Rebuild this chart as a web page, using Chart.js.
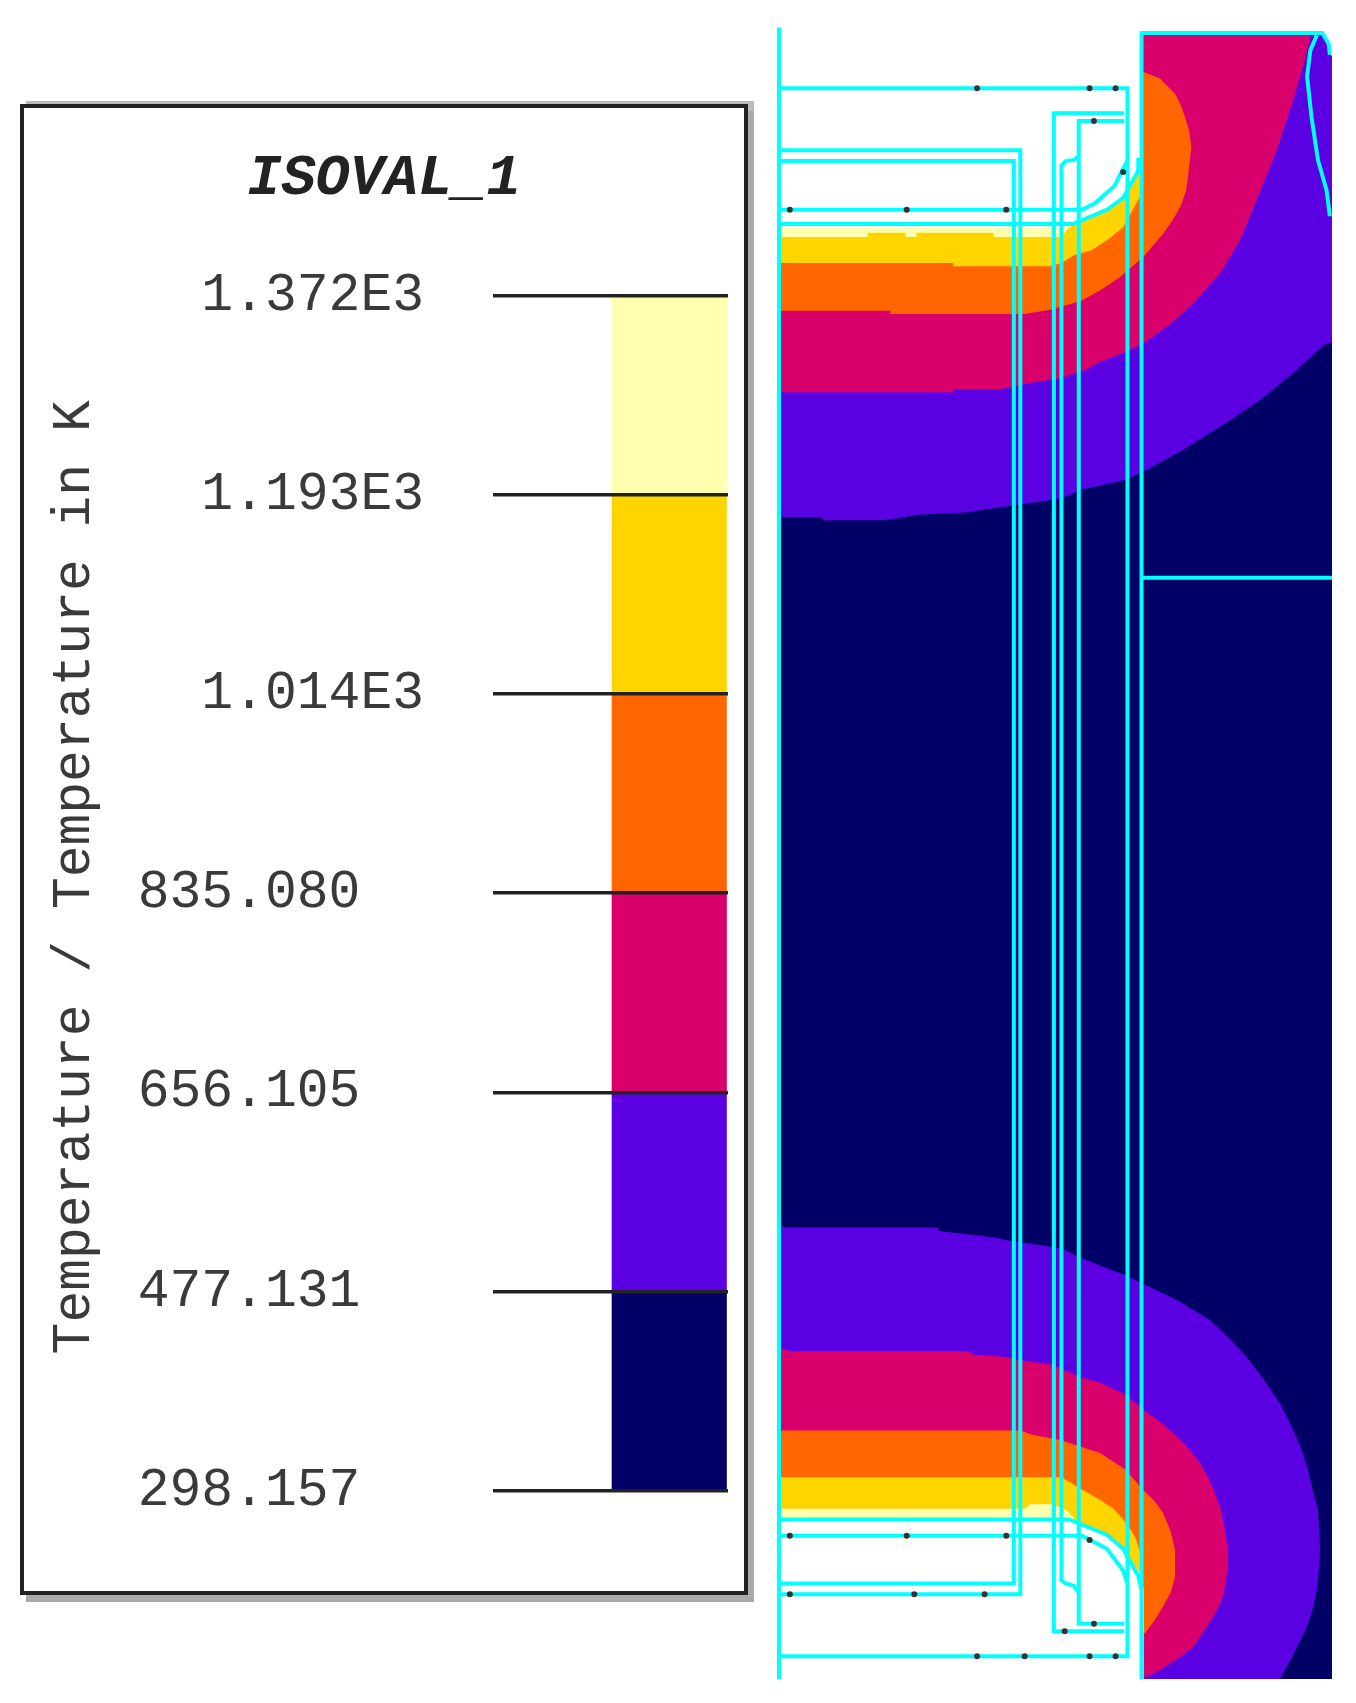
<!DOCTYPE html>
<html>
<head>
<meta charset="utf-8">
<script src="https://cdn.jsdelivr.net/npm/chart.js@4"></script>
<style>
  html, body { margin: 0; padding: 0; background: #fff; }
  body { position: relative; width: 1356px; height: 1703px; overflow: hidden; }
  #panel { position: absolute; left: 20px; top: 104px; width: 728px; height: 1491px; box-sizing: border-box; border: 4px solid #222; box-shadow: 6px 7px 0 #aaa, 6px -3px 0 #bbb; }
  #legend { position: absolute; left: 20px; top: 104px; filter: blur(0.6px); }
  #field { position: absolute; left: 770px; top: 10px; filter: blur(0.6px); }
</style>
</head>
<body>
<div id="panel"></div>
<canvas id="legend" width="728" height="1491"></canvas>
<canvas id="field" width="586" height="1693"></canvas>
<script>
// temperature levels (K), low to high
const levels = [298.157, 477.131, 656.105, 835.080, 1014, 1193, 1372];
const levelLabels = ['298.157', '477.131', '656.105', '835.080', '1.014E3', '1.193E3', '1.372E3'];
const bandColors = ['#000066', '#5b00e2', '#d9006b', '#ff6600', '#ffd500', '#ffffb0'];
const bandCategories = ['', 'band'];

// isotherm regions (map units, y down)
const fieldNavy = [[0,0],[502,0],[510,21],[511,21],[511,1517],[0,1517]];
const violetTop = [[0,0],[0,446],[39,446],[41,449],[96,449],[130,444],[172,442],[213,436],[261,429],[279,421],[320,412],[341,402],[372,385],[417,357],[445,338],[478,311],[503,288],[511,285],[511,21],[510,21],[502,0]];
const crimsonTop = [[0,0],[0,331],[161,331],[161,328],[206,328],[234,322],[261,318],[285,310],[297,303],[320,294],[337,286],[361,269],[383,249],[408,221],[426,191],[445,145],[460,108],[475,62],[485,28],[492,0]];
const orangeTop = [[0,0],[0,256],[103,256],[103,259],[227,259],[251,255],[279,247],[297,237],[315,225],[337,206],[355,185],[364,172],[371,160],[376,146],[378,132],[381,105],[379,90],[375,77],[371,66],[366,56],[352,42],[337,36]];
const goldTop = [[0,0],[0,212],[161,212],[161,215],[251,215],[261,212],[272,205],[289,200],[303,191],[318,179],[334,150],[334,127],[334,0]];
const paleTop = [[0,0],[0,188],[82,188],[82,184],[117,184],[117,188],[127,188],[127,184],[198,184],[198,188],[261,188],[268,179],[268,0]];
const whiteTop = [[0,0],[335,0],[335,127],[332,129],[318,150],[303,163],[279,173],[268,179],[0,179]];

const violetBottom = [[0,1098],[6,1101],[146,1101],[148,1104],[199,1110],[213,1113],[261,1120],[279,1129],[320,1145],[341,1155],[368,1168],[398,1186],[415,1202],[432,1220],[448,1241],[463,1263],[473,1283],[482,1303],[489,1325],[494,1346],[498,1361],[500,1397],[499,1416],[497,1434],[494,1450],[489,1466],[482,1481],[473,1499],[463,1517],[0,1517]];
const crimsonBottom = [[0,1212],[11,1215],[175,1215],[179,1218],[208,1220],[227,1224],[251,1227],[279,1239],[297,1244],[320,1255],[337,1269],[351,1279],[365,1291],[378,1304],[389,1318],[397,1332],[403,1346],[408,1360],[411,1374],[415,1398],[415,1413],[411,1438],[407,1449],[401,1460],[392,1474],[383,1487],[372,1496],[361,1503],[350,1510],[337,1516],[0,1517]];
const orangeBottom = [[0,1288],[223,1288],[234,1292],[261,1297],[279,1303],[297,1309],[320,1324],[337,1343],[347,1353],[355,1364],[362,1381],[366,1398],[366,1423],[362,1437],[355,1450],[347,1463],[338,1475],[0,1475]];
const goldBottom = [[0,1331],[261,1331],[279,1342],[297,1352],[309,1360],[320,1372],[329,1386],[334,1401],[337,1475],[0,1475]];
const paleBottom = [[0,1360],[227,1360],[232,1356],[253,1356],[265,1361],[273,1369],[273,1373],[0,1373]];
const whiteBottom = [[0,1370],[268,1370],[279,1376],[297,1380],[309,1387],[320,1401],[334,1420],[337,1434],[337,1517],[0,1517]];

// mesh outlines
const meshLines = [
  [[0,-5],[0,1517]],
  [[335,1517],[335,0],[502,0],[508,10],[509,20]],
  [[335,502],[511,502]],
  [[497,2],[491,16],[488,40],[492,77],[498,117],[506,145],[509,169]],
  [[0,51],[322,51],[322,1496],[0,1496]],
  [[0,108],[223,108],[223,1439],[0,1439]],
  [[0,118],[217,118],[217,1429],[0,1429]],
  [[319,74],[254,74],[254,1473],[319,1473]],
  [[319,81],[277,81],[277,1466],[319,1466]],
  [[277,113],[273,117],[265,118],[261,122],[261,1426],[265,1429],[272,1431],[277,1437]],
  [[0,163],[280,163],[292,157],[310,141],[318,125],[322,118]],
  [[0,1385],[280,1385],[303,1397],[318,1417],[322,1429]],
  [[0,176],[272,176],[303,163],[318,152],[332,127],[332,115]],
  [[0,1370],[268,1370],[303,1384],[318,1397],[332,1422],[335,1434]]
];
const meshNodes = [[183,51],[287,51],[311,51],[291,81],[318,128],[10,163],[118,163],[210,163],[10,1385],[118,1385],[210,1385],[287,1389],[10,1439],[125,1439],[190,1439],[291,1466],[264,1473],[183,1496],[227,1496],[287,1496],[311,1496]];

const monoFont = 'Liberation Mono';

// colour scale panel
const bandSets = bandColors.map((color, i) => ({
  data: [null, [levels[i], levels[i + 1]]],
  backgroundColor: color,
  borderWidth: 0,
  barPercentage: 0.98,
  categoryPercentage: 1,
  grouped: false
}));

new Chart(document.getElementById('legend'), {
  type: 'bar',
  data: { labels: bandCategories, datasets: bandSets },
  options: {
    responsive: false,
    animation: false,
    layout: { padding: { left: 20, top: 47, right: 20, bottom: 104.3 } },
    plugins: {
      legend: { display: false },
      tooltip: { enabled: false },
      title: {
        display: true,
        text: 'ISOVAL_1',
        color: '#222',
        font: { family: monoFont, size: 57, style: 'italic', weight: 'bold', lineHeight: 1 },
        padding: { top: 0, bottom: 87.7 }
      }
    },
    scales: {
      x: { display: false },
      y: {
        min: levels[0],
        max: levels[levels.length - 1],
        afterBuildTicks: (scale) => { scale.ticks = levels.map((v) => ({ value: v })); },
        afterFit: (scale) => { scale.width = 453; },
        grid: { color: '#222', lineWidth: 3.5, drawTicks: false, z: 1 },
        border: { display: false },
        ticks: {
          autoSkip: false,
          padding: 69,
          color: '#3a3a3a',
          font: { family: monoFont, size: 53 },
          callback: (value, i) => levelLabels[i] + (levels[i] < 1000 ? '  ' : '')
        },
        title: {
          display: true,
          text: ' Temperature / Temperature in K',
          color: '#3a3a3a',
          font: { family: monoFont, size: 53 },
          padding: { top: 3, bottom: 0 }
        }
      }
    }
  }
});

// temperature field
const fillLayers = [
  [fieldNavy, '#000066'],
  [violetTop, '#5b00e2'], [crimsonTop, '#d9006b'], [orangeTop, '#ff6600'], [goldTop, '#ffd500'], [paleTop, '#ffffb0'], [whiteTop, '#ffffff'],
  [violetBottom, '#5b00e2'], [crimsonBottom, '#d9006b'], [orangeBottom, '#ff6600'], [goldBottom, '#ffd500'], [paleBottom, '#ffffb0'], [whiteBottom, '#ffffff']
];

const fieldSets = fillLayers.map(([pts, color]) => ({
  data: pts,
  showLine: true,
  fill: 'shape',
  backgroundColor: color,
  borderWidth: 0,
  pointRadius: 0,
  tension: 0,
  clip: false
})).concat(meshLines.map((pts) => ({
  data: pts,
  showLine: true,
  fill: false,
  borderColor: '#00ffff',
  borderWidth: 4,
  pointRadius: 0,
  tension: 0,
  clip: false
}))).concat([{
  data: meshNodes,
  showLine: false,
  pointRadius: 3,
  pointBackgroundColor: '#333',
  pointBorderWidth: 0,
  clip: false
}]);
fieldSets.forEach((set, i) => { set.order = fieldSets.length - i; });

new Chart(document.getElementById('field'), {
  type: 'scatter',
  data: { datasets: fieldSets },
  options: {
    responsive: false,
    animation: false,
    layout: { padding: { left: 9, top: 23, right: 24, bottom: 24 } },
    plugins: { legend: { display: false }, tooltip: { enabled: false } },
    scales: {
      x: { type: 'linear', display: false, min: 0, max: 511 },
      y: { type: 'linear', display: false, min: 0, max: 1517, reverse: true }
    }
  }
});
</script>
</body>
</html>
